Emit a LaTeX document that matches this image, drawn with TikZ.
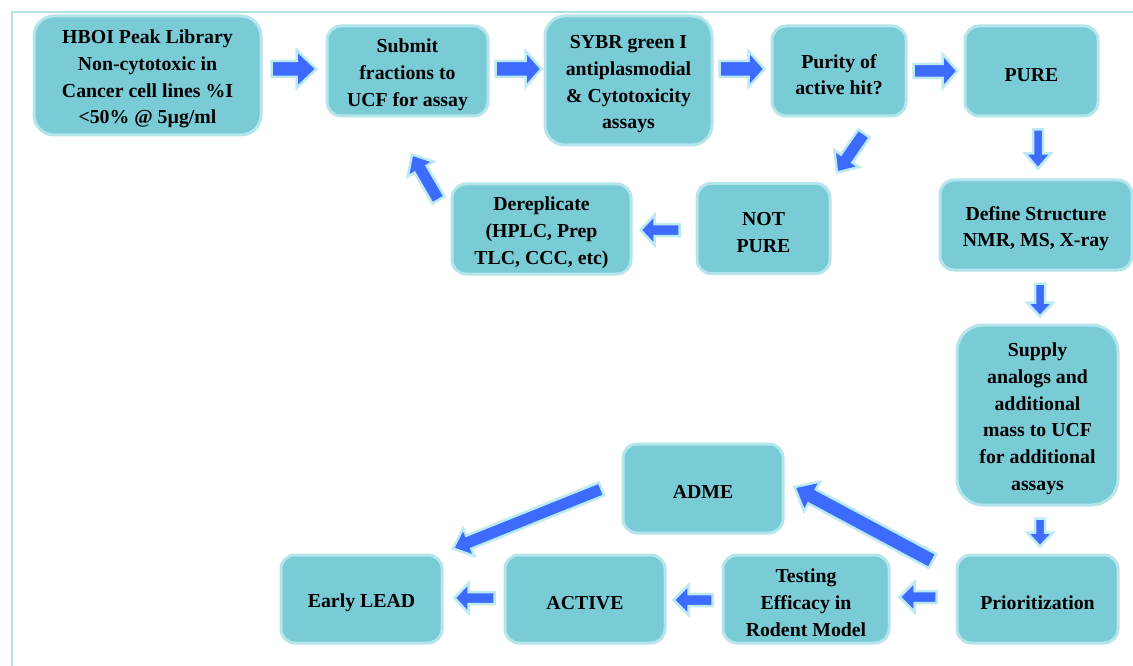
\documentclass[tikz,border=0pt]{standalone}
\usepackage{fontspec}
\setmainfont{Liberation Serif}
\usetikzlibrary{calc}
\definecolor{boxfill}{RGB}{121,203,214}
\definecolor{boxedge}{RGB}{180,228,236}
\definecolor{arrowblue}{RGB}{61,107,255}
\definecolor{arrowedge}{RGB}{188,234,242}
\definecolor{framecol}{RGB}{178,224,230}
\newcommand\myboxfont{\bfseries\fontsize{19.8}{26.7}\selectfont}
\newcommand\mytopstrut{\rule{0pt}{21pt}}
\newcommand\barrow[5]{%
  \path ($(#2)!#5!(#1)$) coordinate (bh);
  \draw[blockarrow] ($(#1)!#3!90:(#2)$) -- ($(bh)!#3!90:(#2)$) -- ($(bh)!#4!90:(#2)$) -- (#2)
     -- ($(bh)!#4!-90:(#2)$) -- ($(bh)!#3!-90:(#2)$) -- ($(#1)!#3!-90:(#2)$) -- cycle;}
\tikzset{
  box/.style={rectangle, rounded corners=14pt, fill=boxfill, draw=boxedge, line width=3pt,
    align=center, font=\myboxfont, inner sep=2pt, text=black},
  blockarrow/.style={fill=arrowblue, draw=arrowedge, line width=2.5pt, line join=miter}
}
\begin{document}
\begin{tikzpicture}[x=1pt,y=-1pt]
\useasboundingbox (0,0) rectangle (1133,666);
\draw[framecol, line width=2pt] (12,666) -- (12,12) -- (1133,12);

\node[box, minimum width=227pt, minimum height=119pt, rounded corners=20pt] (hboi) at (147.5,75.5)
  {\mytopstrut HBOI Peak Library\\Non-cytotoxic in\\Cancer cell lines \%I\\<50\% @ 5µg/ml};
\node[box, minimum width=161pt, minimum height=90pt] (submit) at (407.5,71)
  {\mytopstrut Submit\\fractions to\\UCF for assay};
\node[box, minimum width=167pt, minimum height=129pt, rounded corners=20pt] (sybr) at (628.5,80.5)
  {\mytopstrut SYBR green I\\antiplasmodial\\\& Cytotoxicity\\assays};
\node[box, minimum width=134pt, minimum height=90pt] (purity) at (839,71)
  {\mytopstrut Purity of\\active hit?};
\node[box, minimum width=133pt, minimum height=90pt] (pure) at (1031.5,71) {\mytopstrut PURE};
\node[box, minimum width=192pt, minimum height=90pt] (define) at (1036,225)
  {\mytopstrut Define Structure\\NMR, MS, X-ray};
\node[box, minimum width=161pt, minimum height=180pt, rounded corners=26pt] (supply) at (1037.5,415)
  {\mytopstrut Supply\\analogs and\\additional\\mass to UCF\\for additional\\assays};
\node[box, minimum width=161pt, minimum height=88pt] (prio) at (1037.5,599) {\mytopstrut Prioritization};
\node[box, minimum width=166pt, minimum height=88pt] (testing) at (806,599)
  {\mytopstrut Testing\\Efficacy in\\Rodent Model};
\node[box, minimum width=160pt, minimum height=88pt] (active) at (585,599) {\mytopstrut ACTIVE};
\node[box, minimum width=161pt, minimum height=88pt] (early) at (361.5,599) {\mytopstrut Early LEAD};
\node[box, minimum width=160pt, minimum height=89pt] (adme) at (703,488.5) {\mytopstrut ADME};
\node[box, minimum width=133pt, minimum height=90pt] (notpure) at (763.5,228.5) {\mytopstrut NOT\\PURE};
\node[box, minimum width=179pt, minimum height=90pt] (derep) at (541.5,229)
  {\mytopstrut Dereplicate\\(HPLC, Prep\\TLC, CCC, etc)};

% arrow end points
\coordinate (a1s) at ($(hboi.east)+(9,-6.5)$);   \coordinate (a1e) at ($(submit.west)+(-9,-2)$);
\coordinate (a2s) at ($(submit.east)+(6,-2)$);   \coordinate (a2e) at ($(sybr.west)+(-2,-11.5)$);
\coordinate (a3s) at ($(sybr.east)+(6,-11.5)$);  \coordinate (a3e) at ($(purity.west)+(-6,-2)$);
\coordinate (a4s) at ($(purity.east)+(6,0)$);    \coordinate (a4e) at ($(pure.west)+(-6,0)$);
\coordinate (a5s) at ($(pure.south)+(6.5,12)$);  \coordinate (a5e) at ($(define.north)+(2,-10)$);
\coordinate (a6s) at ($(purity.south)+(25,16)$); \coordinate (a6e) at ($(notpure.north)+(73.5,-9.5)$);
\coordinate (a7s) at ($(notpure.west)+(-16,1.5)$); \coordinate (a7e) at ($(derep.east)+(8,1)$);
\coordinate (a8s) at ($(derep.west)+(-12,-29)$); \coordinate (a8e) at ($(submit.south)+(4.5,37)$);
\coordinate (a9s) at ($(define.south)+(4,12)$);  \coordinate (a9e) at ($(supply.north)+(2.5,-7)$);
\coordinate (a10s) at ($(supply.south)+(2.5,12)$); \coordinate (a10e) at ($(prio.north)+(2.5,-7)$);
\coordinate (a11s) at ($(prio.west)+(-23,-38)$); \coordinate (a11e) at ($(adme.east)+(10,-1.5)$);
\coordinate (a12s) at ($(adme.west)+(-20,0.5)$); \coordinate (a12e) at ($(early.north)+(91.5,-5)$);
\coordinate (a13s) at ($(prio.west)+(-19,-2)$);  \coordinate (a13e) at ($(testing.east)+(9,-2)$);
\coordinate (a14s) at ($(testing.west)+(-9,1)$); \coordinate (a14e) at ($(active.east)+(7,1)$);
\coordinate (a15s) at ($(active.west)+(-9,-1)$); \coordinate (a15e) at ($(early.east)+(11,-1)$);

\barrow{a1s}{a1e}{8pt}{19pt}{20pt}
\barrow{a2s}{a2e}{8pt}{18pt}{16pt}
\barrow{a3s}{a3e}{8pt}{18pt}{16pt}
\barrow{a4s}{a4e}{7pt}{17pt}{15pt}
\barrow{a5s}{a5e}{5pt}{13pt}{15pt}
\barrow{a6s}{a6e}{7pt}{15pt}{17pt}
\barrow{a7s}{a7e}{6pt}{15pt}{14pt}
\barrow{a8s}{a8e}{7pt}{15pt}{17pt}
\barrow{a9s}{a9e}{5pt}{13pt}{14pt}
\barrow{a10s}{a10e}{5pt}{13pt}{14pt}
\barrow{a11s}{a11e}{8pt}{17pt}{20pt}
\barrow{a12s}{a12e}{7pt}{15pt}{17pt}
\barrow{a13s}{a13e}{6pt}{15pt}{15pt}
\barrow{a14s}{a14e}{6pt}{15pt}{15pt}
\barrow{a15s}{a15e}{6pt}{15pt}{14pt}
\end{tikzpicture}
\end{document}
